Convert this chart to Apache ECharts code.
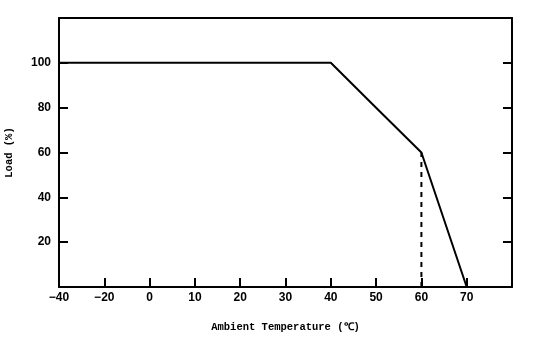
<!DOCTYPE html>
<html>
<head>
<meta charset="utf-8">
<script src="https://cdn.jsdelivr.net/npm/echarts@6/dist/echarts.min.js"></script>
<style>html,body{margin:0;padding:0;background:#fff}#c{width:541px;height:355px}</style>
</head>
<body>
<div id="c"></div>
<script>
var categories = ['-40', '-20', '0', '10', '20', '30', '40', '50', '60', '70', '80'];
var loadValues = [100, 100, 100, 100, 100, 100, 100, 80, 60, 0, null];
var dashX = '60';
var dashValues = [0, 60];
var yTicks = [20, 40, 60, 80, 100];
var xName = 'Ambient Temperature (℃)';
var yName = 'Load (%)';

var chart = echarts.init(document.getElementById('c'));
var dashIdx = categories.indexOf(dashX);
var lbl = {fontFamily: 'Liberation Sans, Arial', fontWeight: 'bold', fontSize: 12, color: '#000'};
var nameStyle = {fontFamily: 'Liberation Mono, monospace', fontSize: 10.5, color: '#000', fontWeight: 'bold'};
chart.setOption({
  animation: false,
  backgroundColor: '#fff',
  grid: {left: 59, right: 29, top: 18, bottom: 68, containLabel: false, outerBoundsMode: 'none'},
  xAxis: [{
    type: 'category', data: categories, boundaryGap: false, position: 'bottom',
    name: xName, nameLocation: 'middle', nameGap: 35,
    nameTextStyle: nameStyle,
    axisLine: {onZero: false, lineStyle: {color: '#000', width: 2}},
    axisTick: {inside: true, length: 9, lineStyle: {color: '#000', width: 2}, interval: 0},
    axisLabel: Object.assign({margin: 5, interval: 0, formatter: function (v) { return v === '80' ? '' : v.replace('-', '\u2212'); }}, lbl),
    splitLine: {show: false}
  }, {
    type: 'category', data: categories, boundaryGap: false, position: 'top',
    axisLine: {show: true, onZero: false, lineStyle: {color: '#000', width: 2}},
    axisTick: {show: false}, axisLabel: {show: false}, splitLine: {show: false}
  }],
  yAxis: [{
    type: 'value', min: 0, max: 120, interval: 20, position: 'left',
    name: yName, nameLocation: 'middle', nameGap: 44, nameRotate: 90,
    nameTextStyle: nameStyle,
    axisLine: {show: true, onZero: false, lineStyle: {color: '#000', width: 2}},
    axisTick: {show: true, inside: true, length: 9, lineStyle: {color: '#000', width: 2}},
    axisLabel: Object.assign({margin: 8, formatter: function (v) { return yTicks.indexOf(v) >= 0 ? String(v) : ''; }}, lbl),
    splitLine: {show: false}
  }, {
    type: 'value', min: 0, max: 120, interval: 20, position: 'right',
    axisLine: {show: true, onZero: false, lineStyle: {color: '#000', width: 2}},
    axisTick: {show: true, inside: true, length: 9, lineStyle: {color: '#000', width: 2}},
    axisLabel: {show: false}, splitLine: {show: false}
  }],
  series: [{
    type: 'line', data: loadValues, symbol: 'none', connectNulls: false,
    lineStyle: {color: '#000', width: 2}
  }, {
    type: 'line', data: dashValues.map(function (v) { return [dashIdx, v]; }), symbol: 'none',
    lineStyle: {color: '#000', width: 2, type: [5, 5]}
  }]
});
</script>
</body>
</html>
